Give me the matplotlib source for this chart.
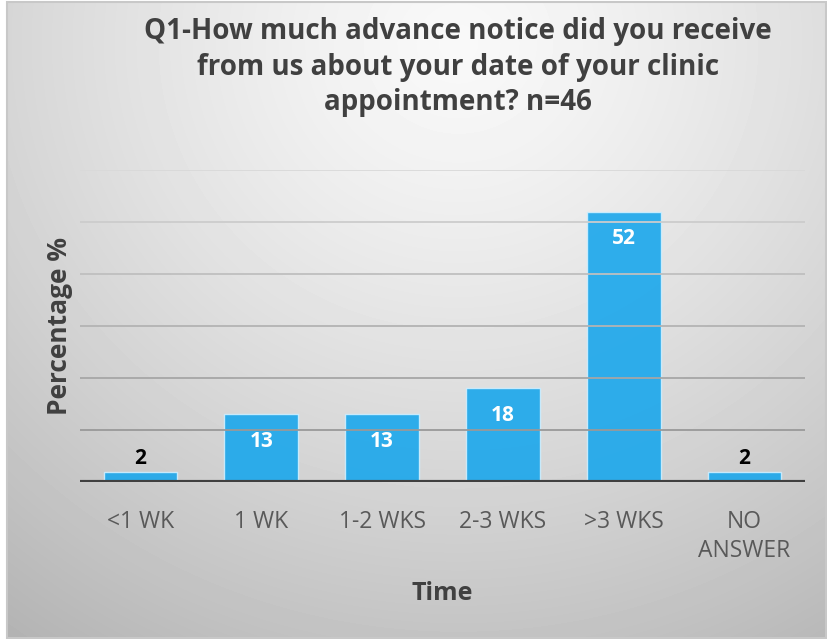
import numpy as np
import matplotlib.pyplot as plt
from matplotlib.patches import Rectangle

categories = ["<1 WK", "1 WK", "1-2 WKS", "2-3 WKS", ">3 WKS", "NO\nANSWER"]
percentages = [2, 13, 13, 18, 52, 2]
title = "Q1-How much advance notice did you receive\nfrom us about your date of your clinic\nappointment? n=46"

W, H = 827, 639
fig = plt.figure(figsize=(W / 100, H / 100), dpi=100, facecolor="white")

# radial grey background of the chart area
bg = fig.add_axes([8 / W, 2 / H, 818 / W, 634 / H])
yy, xx = np.mgrid[0:634, 0:818]
r = np.sqrt(((xx - 450) / 650.0) ** 2 + ((yy - 40) / 620.0) ** 2)
shade = 0.975 - 0.22 * r ** 1.3
bg.imshow(shade, cmap="gray", vmin=0, vmax=1, aspect="auto",
          interpolation="bilinear")
bg.set_axis_off()
fig.patches.append(Rectangle((7 / W, 1 / H), 819 / W, 636 / H, transform=fig.transFigure,
                             fill=False, edgecolor="#C8C8C8", lw=1.5))

ax = fig.add_axes([80 / W, (H - 482) / H, 725 / W, 312 / H])
ax.patch.set_alpha(0)
x = np.arange(len(categories))

# gridlines fade from dark (bottom) to light (top)
grid_levels = [10, 20, 30, 40, 50, 60]
for i, g in enumerate(grid_levels):
    c = 0.60 + 0.25 * i / (len(grid_levels) - 1)
    ax.axhline(g, color=(c, c, c), lw=1.3, zorder=3)

bars = ax.bar(x, percentages, width=0.61, color="#1AA7EC", alpha=0.9,
              edgecolor="#CFEFFF", linewidth=1, zorder=2)
ax.axhline(0, color="#404040", lw=3, zorder=4)

for xi, v in zip(x, percentages):
    if v > 5:
        ax.text(xi, v - 5.2, str(v), ha="center", va="center", color="white",
                fontsize=15, fontweight="bold", family="Open Sans", zorder=5)
    else:
        ax.text(xi, v + 2.5, str(v), ha="center", va="center", color="black",
                fontsize=15, fontweight="bold", family="Open Sans", zorder=5)

ax.set_xlim(-0.5, len(categories) - 0.5)
ax.set_ylim(0, 60)
ax.set_yticks([])
ax.set_xticks(x)
ax.set_xticklabels(categories, fontsize=16.5, color="#595959", family="Open Sans",
                   linespacing=1.3, va="top")
ax.tick_params(axis="x", length=0, pad=20)
for s in ax.spines.values():
    s.set_visible(False)

ax.set_xlabel("Time", fontsize=18, fontweight="bold", color="#404040",
              family="Open Sans", labelpad=13)
ax.set_ylabel("Percentage %", fontsize=19, fontweight="bold", color="#404040",
              family="Open Sans")
ax.yaxis.set_label_coords(-0.01, 0.5)

fig.text(458 / W, 1 - 67 / H, title, ha="center", va="center", fontsize=20,
         fontweight="bold", color="#404040", family="Open Sans", linespacing=1.3)

fig.savefig("out.png", dpi=100, facecolor="white")
